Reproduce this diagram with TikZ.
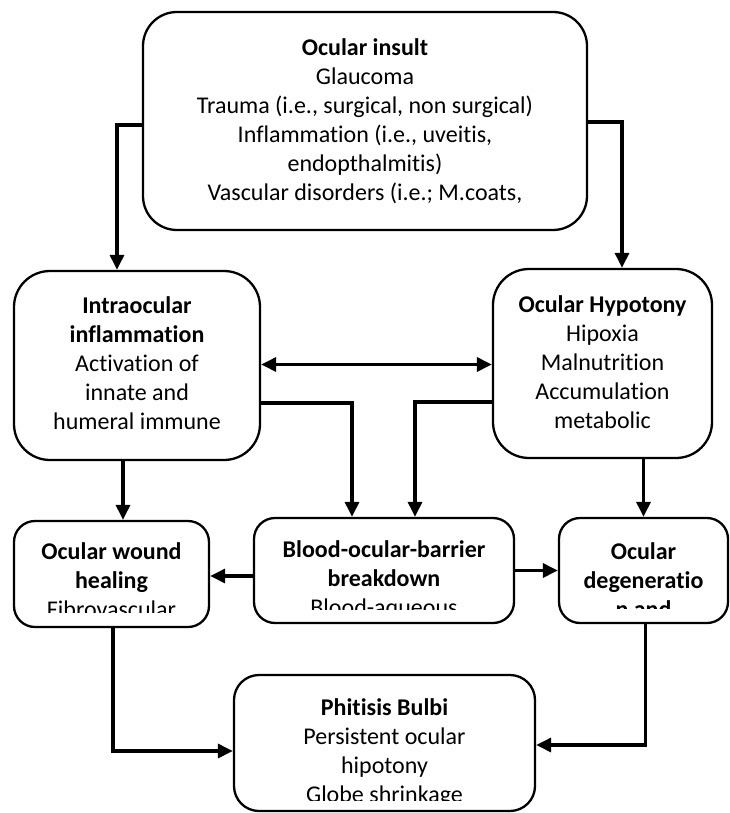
\documentclass[tikz,border=0pt]{standalone}
\usepackage{fontspec}
\setmainfont{Carlito}[Ligatures=NoCommon]
\usetikzlibrary{arrows.meta}
\tikzset{
  boxst/.style={draw, line width=2.3pt, inner sep=0pt},
  txtst/.style={align=center, inner sep=0pt, anchor=north, font=\fontsize{24}{29}\selectfont},
  conn/.style={line width=3.2pt, -{Triangle[length=15pt,width=14pt]}},
  dconn/.style={line width=3.2pt, {Triangle[length=15pt,width=14pt]}-{Triangle[length=15pt,width=14pt]}},
}
% name x1 y1 x2 y2 radius clipy baseline text
\newcommand\mkbox[9]{%
  \node[boxst, rounded corners=#6pt, minimum width={(#4-#2)*1pt}, minimum height={(#5-#3)*1pt}] (#1) at ({(#2+#4)/2},{(#3+#5)/2}) {};
  \begin{scope}
    \clip (#2,#3) rectangle (#4,#7);
    \node[txtst] (#1t) at ({(#2+#4)/2},{#8-20}) {\rule{0pt}{20pt}#9};
  \end{scope}
}
\begin{document}
\begin{tikzpicture}[x=1pt,y=-1pt]
\useasboundingbox (0,0) rectangle (730,813);
\mkbox{top}{143}{12}{587}{230}{34}{218}{55}{\textbf{Ocular insult}\\Glaucoma\\Trauma (i.e., surgical, non surgical)\\Inflammation (i.e., uveitis,\\endopthalmitis)\\Vascular disorders (i.e.; M.coats,}
\mkbox{intra}{14}{271}{260}{460}{36}{450}{313}{\textbf{Intraocular}\\\textbf{inflammation}\\Activation of\\innate and\\humeral immune}
\mkbox{hypo}{493}{269}{712}{458}{36}{448}{312}{\textbf{Ocular Hypotony}\\Hipoxia\\Malnutrition\\Accumulation\\metabolic}
\mkbox{wound}{14}{521}{209}{627}{21}{612}{559}{\textbf{Ocular wound}\\\textbf{healing}\\Fibrovascular}
\mkbox{blood}{254}{518}{514}{623}{21}{609}{557}{\textbf{Blood-ocular-barrier}\\\textbf{breakdown}\\Blood-aqueous}
\mkbox{deg}{559}{518}{728}{623}{21}{608}{559}{\textbf{Ocular}\\\textbf{degeneratio}\\\textbf{n and}}
\mkbox{phit}{234}{675}{535}{811}{25}{800}{715}{\textbf{Phitisis Bulbi}\\Persistent ocular\\hipotony\\Globe shrinkage}

\draw[conn] ([yshift=-4pt]top.west) -| ([xshift=-20pt]intra.north);
\draw[conn] ([yshift=-1pt]top.east) -| ([xshift=19.5pt]hypo.north);
\draw[dconn] ([yshift=1pt]intra.east) -- ([yshift=1pt]intra.east -| hypo.west);
\draw[conn] ([yshift=-37.5pt]intra.east) -| ([xshift=-32pt]blood.north);
\draw[conn] ([yshift=-38.5pt]hypo.west) -| ([xshift=31pt]blood.north);
\draw[conn] ([xshift=-14pt]intra.south) -- ([xshift=-14pt]intra.south |- wound.north);
\draw[conn] (hypo.south -| deg.north) -- (deg.north);
\draw[conn] ([yshift=-5.5pt]blood.west) -- ([yshift=-5.5pt]blood.west -| wound.east);
\draw[conn] (blood.east) -- (blood.east -| deg.west);
\draw[conn] ([xshift=1.5pt]wound.south) |- ([yshift=-8pt]phit.west);
\draw[conn] ([xshift=2pt]deg.south) |- ([yshift=-2pt]phit.east);
\end{tikzpicture}
\end{document}
